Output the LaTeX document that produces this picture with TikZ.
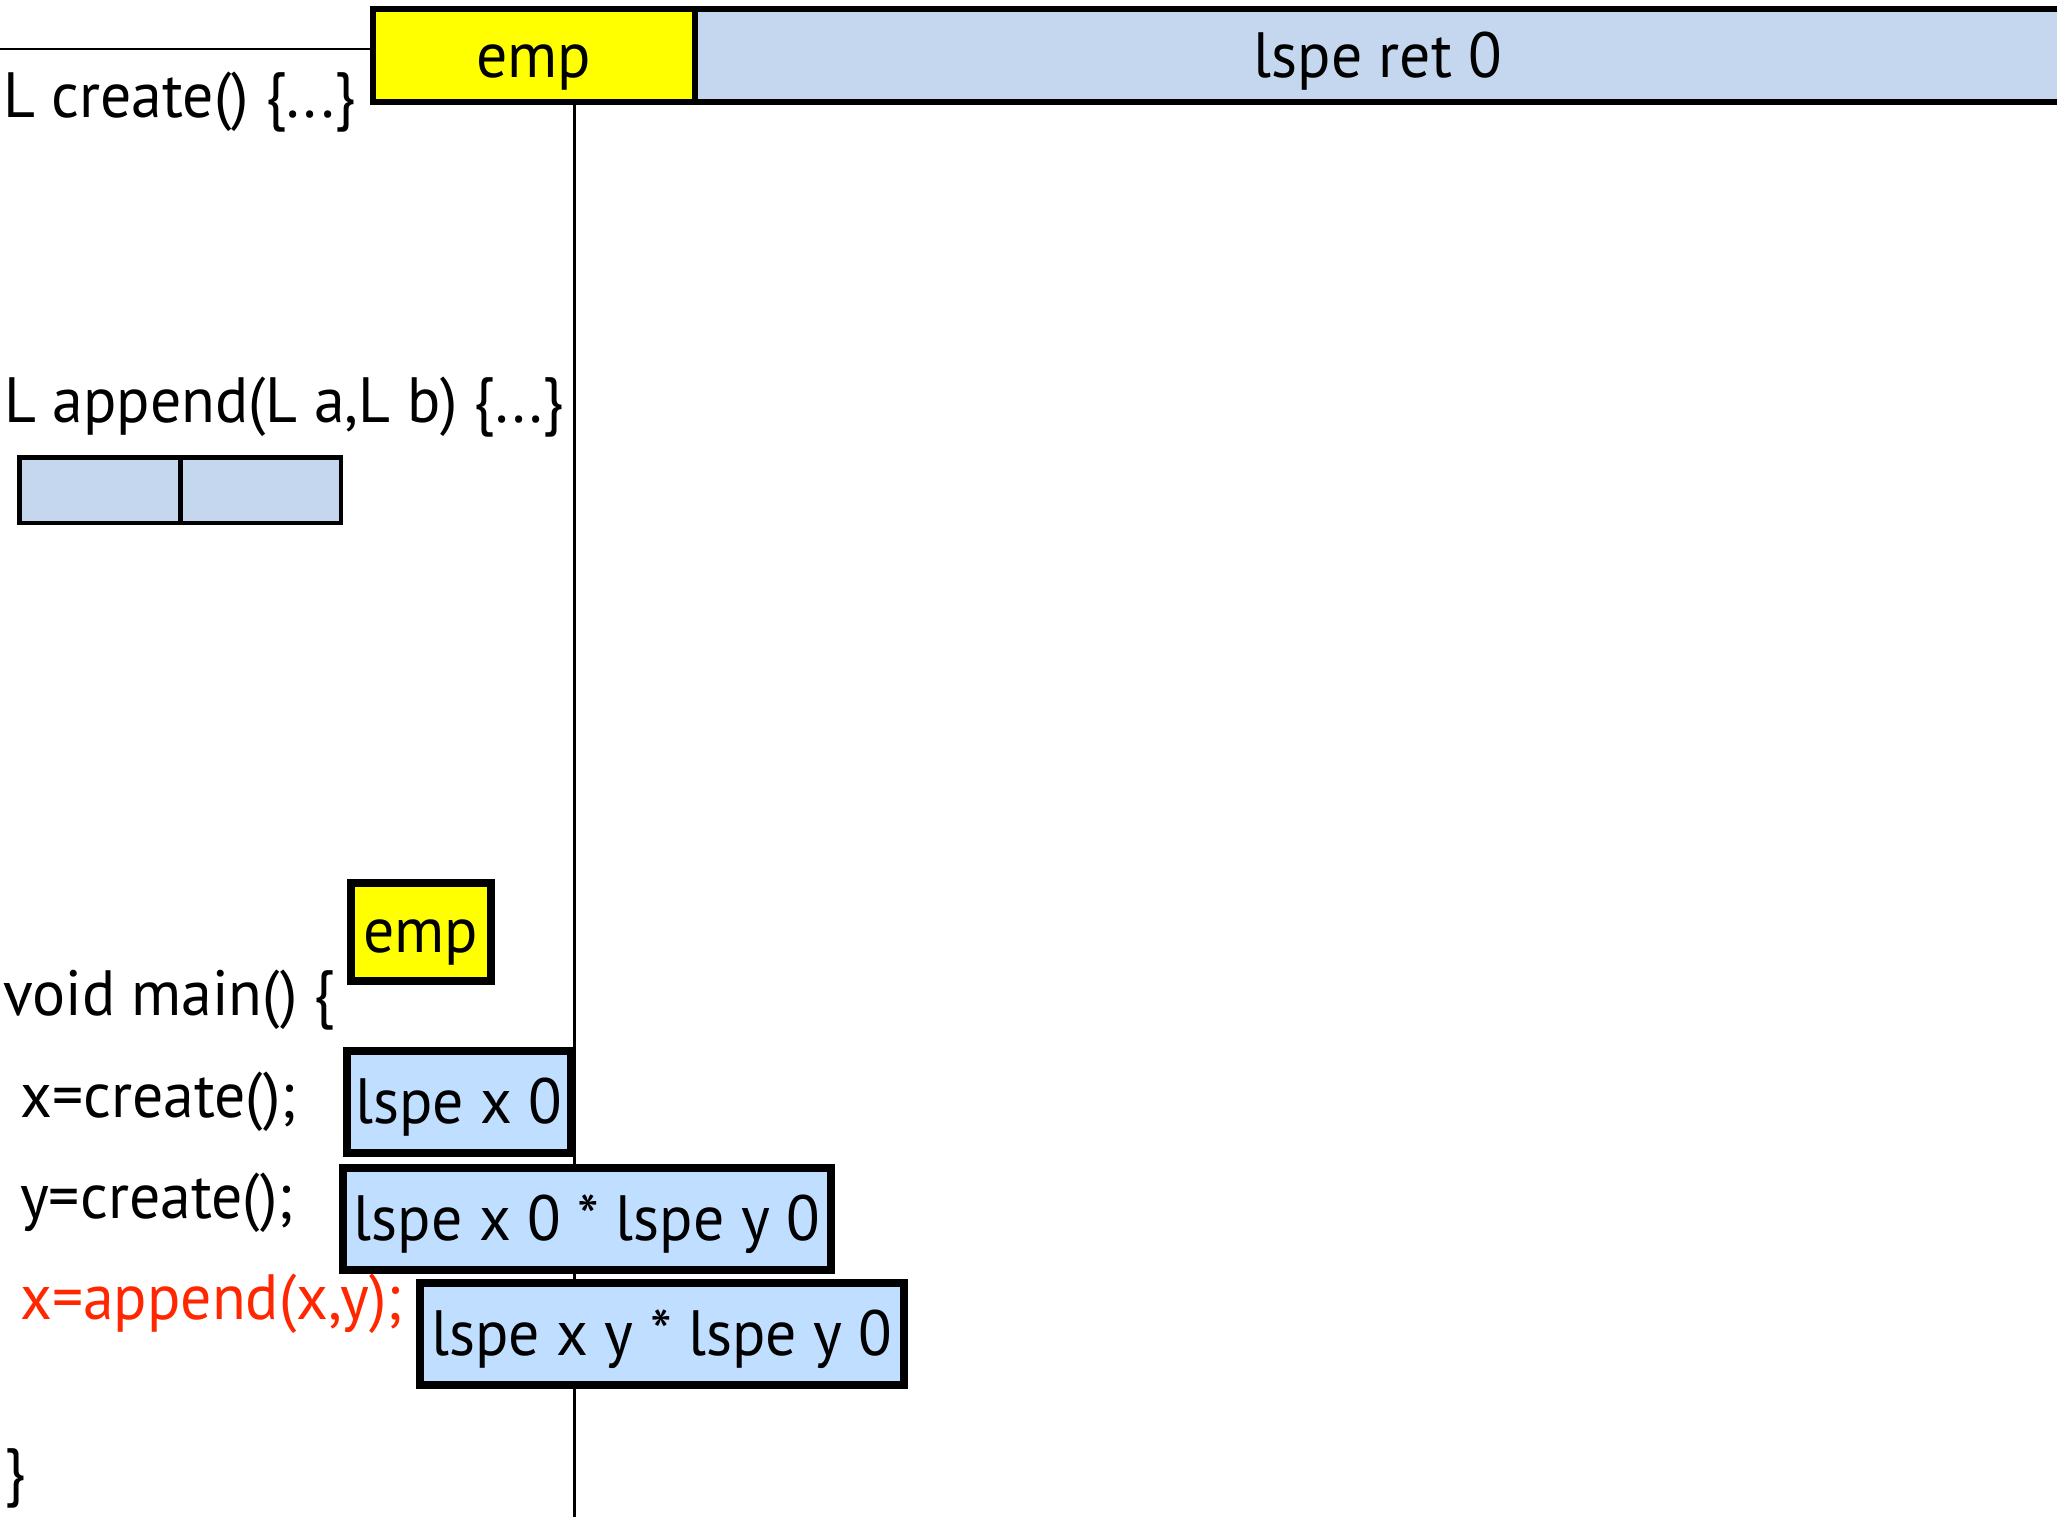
\documentclass[tikz,border=0pt]{standalone}
\usepackage{fontspec}
\setmainfont{PT Sans}[FakeStretch=0.965]
\definecolor{barblue}{RGB}{196,215,238}
\definecolor{stateblue}{RGB}{192,222,255}
\definecolor{hiyellow}{RGB}{255,255,0}
\definecolor{codered}{RGB}{255,38,0}
\tikzset{
  big/.style={font=\fontsize{64}{70}\selectfont},
  code/.style={big, anchor=base west, inner sep=0pt},
  barcell/.style={big, draw, line width=6pt, anchor=north west, inner xsep=0pt, inner ysep=0pt,
    text height=69.25pt, text depth=24.25pt},
  statebox/.style={big, draw, line width=8pt, fill=stateblue, anchor=north west,
    inner xsep=0pt, inner ysep=0pt, text height=73pt, text depth=29pt},
  cell/.style={draw, line width=4.5pt, fill=barblue, anchor=north west, inner sep=0pt,
    minimum height=65.5pt},
  thin/.style={line width=2.4pt}
}
\begin{document}
\begin{tikzpicture}[x=1pt,y=-1pt]
\useasboundingbox (0,0) rectangle (2057,1517);

% return frame of create(): empty heap, then the returned list
\node[barcell, fill=hiyellow, minimum width=322.25pt] (topemp) at (369.75,5.75) {emp};
\node[barcell, fill=barblue, minimum width=1366pt] (topret) at (692,5.75) {lspe ret 0};
\coordinate (lineL) at (0,49.3);
\draw[thin] (lineL) -- (lineL -| topemp.west);

% time line
\coordinate (axisEnd) at (574.5,1517);
\draw[thin] (topemp.south -| axisEnd) -- (axisEnd);

% function declarations
\node[code] (fcreate) at (3,118) {L create() \{...\}};
\node[code] (fappend) at (4,422) {L append(L a,L b) \{...\}};
\node[cell, minimum width=160.75pt] (cellA) at (17.25,455.25) {};
\node[cell, minimum width=160.75pt] (cellB) at (178,455.25) {};

% main
\node[code] (lmain) at (3,1015) {void main() \{};
\node[code] (lx) at (20,1117) {x=create();};
\node[code] (ly) at (20,1218) {y=create();};
\node[code, text=codered] (lapp) at (20,1319) {x=append(x,y);};
\node[code] (lend) at (4,1493) {\}};

% symbolic states
\node[barcell, line width=8pt, fill=hiyellow, minimum width=140pt,
      text height=69.5pt, text depth=28.5pt] (s0) at (346.5,879) {emp};
\node[statebox, minimum width=224pt] (s1) at (343,1046.5) {lspe x 0};
\node[statebox, minimum width=488pt] (s2) at (339,1163.5) {lspe x 0 * lspe y 0};
\node[statebox, minimum width=484pt] (s3) at (416,1278.5) {lspe x y * lspe y 0};
\end{tikzpicture}
\end{document}
